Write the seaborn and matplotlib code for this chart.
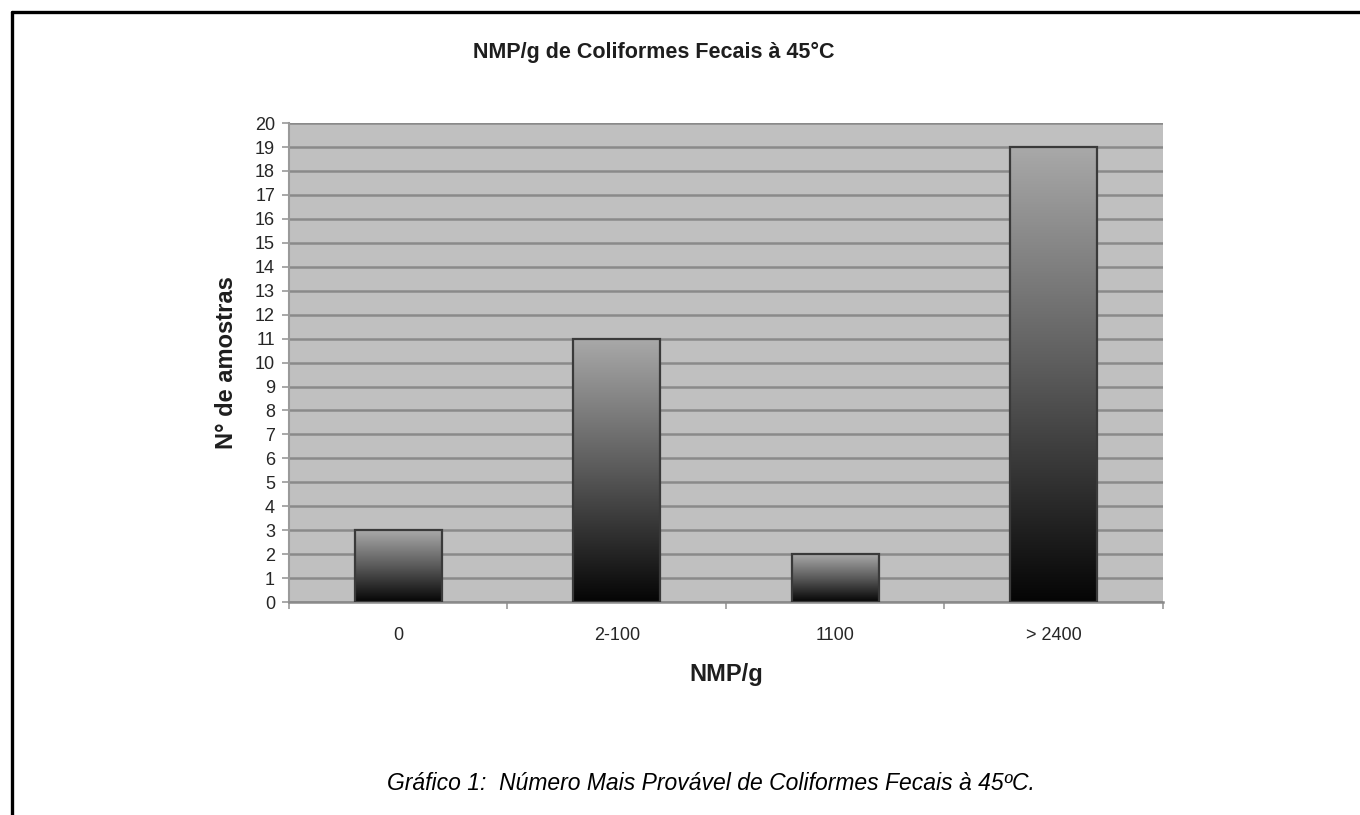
import numpy as np
import pandas as pd
import matplotlib
matplotlib.use("Agg")
import matplotlib.pyplot as plt
from matplotlib.colors import LinearSegmentedColormap
from matplotlib.lines import Line2D
import seaborn as sns

# Data
categories = ["0", "2-100", "1100", "> 2400"]
amostras = [3, 11, 2, 19]

title_text = "NMP/g de Coliformes Fecais à 45°C"
xlabel_text = "NMP/g"
ylabel_text = "N° de amostras"
caption_text = "Gráfico 1:  Número Mais Provável de Coliformes Fecais à 45ºC."

sns.set_theme(style="white")
plt.rcParams["font.family"] = ["Liberation Sans", "DejaVu Sans"]

df = pd.DataFrame({"faixa": categories, "n": amostras})

fig = plt.figure(figsize=(13.6, 8.15), dpi=100)
ax = fig.add_axes([0.2125, 0.2613, 0.6426, 0.5877])
ax.set_facecolor("#c0c0c0")

sns.barplot(data=df, x="faixa", y="n", ax=ax, width=0.40,
            color="#808080", edgecolor="#3a3a3a", linewidth=1.6, zorder=3)

# vertical gray-to-black gradient inside every bar
cmap = LinearSegmentedColormap.from_list("barfill", ["#050505", "#5a5a5a", "#a9a9a9"])
grad = np.linspace(0, 1, 256).reshape(-1, 1)
for patch in ax.patches:
    x0, y0 = patch.get_x(), patch.get_y()
    w, h = patch.get_width(), patch.get_height()
    im = ax.imshow(grad, cmap=cmap, origin="lower", aspect="auto",
                   extent=[x0, x0 + w, y0, y0 + h], zorder=2.5,
                   interpolation="bilinear")
    im.set_clip_path(patch)
    patch.set_facecolor("none")
    patch.set_zorder(4)

ax.set_xlim(-0.5, len(categories) - 0.5)
ax.set_ylim(0, 20)
ax.set_yticks(range(0, 21))
ax.yaxis.grid(True, color="#8a8a8a", linewidth=1.8)
ax.xaxis.grid(False)
ax.set_axisbelow(True)

for s in ["top", "right"]:
    ax.spines[s].set_visible(False)
ax.spines["left"].set_color("#9a9a9a")
ax.spines["left"].set_linewidth(1.5)
ax.spines["bottom"].set_color("#8a8a8a")
ax.spines["bottom"].set_linewidth(1.8)

ax.tick_params(axis="y", which="major", left=True, length=5, width=1.2,
               color="#9a9a9a", labelsize=13, labelcolor="#262626", pad=5)
ax.set_xticks(range(len(categories)))
ax.set_xticklabels(categories)
ax.tick_params(axis="x", which="major", bottom=False, labelsize=13,
               labelcolor="#262626", pad=12)
ax.set_xticks(np.arange(-0.5, len(categories)), minor=True)
ax.tick_params(axis="x", which="minor", bottom=True, length=5, width=1.2,
               color="#9a9a9a")

ax.set_xlabel(xlabel_text, fontsize=17, fontweight="bold", color="#1e1e1e", labelpad=14)
ax.set_ylabel(ylabel_text, fontsize=17, fontweight="bold", color="#1e1e1e", labelpad=12)

fig.text(0.481, 0.936, title_text, ha="center", va="center",
         fontsize=15.5, fontweight="bold", color="#1e1e1e")
fig.text(0.523, 0.039, caption_text, ha="center", va="center",
         fontsize=16.5, style="italic", color="black")

# page frame (left and top edges)
fig.add_artist(Line2D([12 / 1360, 12 / 1360], [0, 1 - 12 / 815],
                      transform=fig.transFigure, color="black", linewidth=2.4))
fig.add_artist(Line2D([12 / 1360, 1], [1 - 12 / 815, 1 - 12 / 815],
                      transform=fig.transFigure, color="black", linewidth=2.4))

fig.savefig("out.png", dpi=100, facecolor="white")
